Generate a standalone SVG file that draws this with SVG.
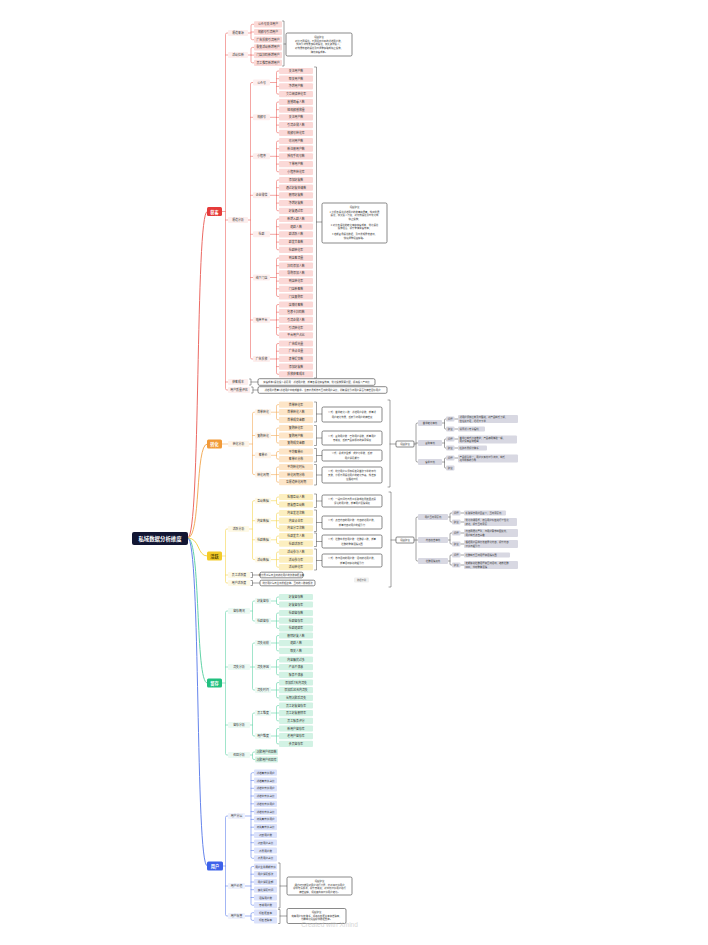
<svg xmlns="http://www.w3.org/2000/svg" width="708" height="945" viewBox="0 0 708 945">
<style>
text{font-family:"Noto Sans CJK SC","Noto Sans",sans-serif;font-size:2.9px;fill:#333;text-anchor:middle;dominant-baseline:central}
.lk{fill:none;stroke-linecap:round;stroke-linejoin:round;stroke-width:.6}
.big{stroke-width:1}
.cr{stroke:#ec6a64}.co{stroke:#f3ad5c}.cy{stroke:#f5d552}.cg{stroke:#62d3a7}.cb{stroke:#6584ec}.cd{stroke:#555;stroke-width:.55}
.root rect{fill:#121633}.root text{fill:#fff;font-size:5.4px;font-weight:bold}
.mb text{fill:#fff;font-size:4.2px;font-weight:bold}
.lr{fill:#fbd9d7}.lo{fill:#fde5c7}.ly{fill:#fcefc0}.lg{fill:#d2f2e4}.lb{fill:#dbe2fb}
.tr{fill:#fdeeed}.to{fill:#fef4e8}.ty{fill:#fef9e6}.tg{fill:#ebf9f3}.tb{fill:#eef1fd}
.nt rect{fill:#fff;stroke:#3a3a3a;stroke-width:.6}.nt text{font-size:2.4px}
.gr rect{fill:#d8d8e2}.gr text{font-size:2.4px}
.lt{text-anchor:start}
.sum{fill:#f0f0f0}
</style>

<g id="connectors">
<!-- root to main branches -->
<path class="lk big cr" d="M188 538 C201 538 195 211.5 207 211.5"/>
<path class="lk big co" d="M188 538 C201 538 195 444 207 444"/>
<path class="lk big cy" d="M188 538 C200 538 197 556 207 556"/>
<path class="lk big cg" d="M188 538 C201 538 195 683 207 683"/>
<path class="lk big cb" d="M188 538 C201 538 195 866 207 866"/>
<!-- red -->
<path class="lk cr" d="M228 33 H227 Q225.5 33 225.5 34.5 V388.5 Q225.5 390 227 390 H228 M222 211.5 H225.5 M225.5 55 H228 M225.5 220 H228 M225.5 382 H228"/>
<path class="lk cr" d="M254 24.3 H252.5 Q251 24.3 251 25.8 V38.2 Q251 39.7 252.5 39.7 H254 M248 33 H251 M251 32 H254"/>
<path class="lk cr" d="M254 47.4 H252.5 Q251 47.4 251 48.9 V61.3 Q251 62.8 252.5 62.8 H254 M248 55 H251 M251 55.1 H254"/>
<path class="lk cr" d="M253 82.5 H252 Q250.5 82.5 250.5 84 V357.5 Q250.5 359 252 359 H253 M248 220 H250.5 M250.5 117.3 H253 M250.5 156.3 H253 M250.5 195.3 H253 M250.5 234.3 H253 M250.5 277.5 H253 M250.5 320 H253"/>
<path class="lk cr" d="M279 71 H278 Q276.5 71 276.5 72.5 V92.6 Q276.5 94.1 278 94.1 H279 M270 82.5 H276.5 M276.5 78.7 H279 M276.5 86.4 H279"/>
<path class="lk cr" d="M279 102 H278 Q276.5 102 276.5 103.5 V131.3 Q276.5 132.8 278 132.8 H279 M270 117.3 H276.5 M276.5 109.7 H279 M276.5 117.4 H279 M276.5 125.1 H279"/>
<path class="lk cr" d="M279 141 H278 Q276.5 141 276.5 142.5 V170.3 Q276.5 171.8 278 171.8 H279 M270 156.3 H276.5 M276.5 148.7 H279 M276.5 156.4 H279 M276.5 164.1 H279"/>
<path class="lk cr" d="M279 180 H278 Q276.5 180 276.5 181.5 V209.3 Q276.5 210.8 278 210.8 H279 M270 195.3 H276.5 M276.5 187.7 H279 M276.5 195.4 H279 M276.5 203.1 H279"/>
<path class="lk cr" d="M279 219 H278 Q276.5 219 276.5 220.5 V248.3 Q276.5 249.8 278 249.8 H279 M270 234.3 H276.5 M276.5 226.7 H279 M276.5 234.4 H279 M276.5 242.1 H279"/>
<path class="lk cr" d="M279 258 H278 Q276.5 258 276.5 259.5 V295 Q276.5 296.5 278 296.5 H279 M270 277.5 H276.5 M276.5 265.7 H279 M276.5 273.4 H279 M276.5 281.1 H279 M276.5 288.8 H279"/>
<path class="lk cr" d="M279 304.5 H278 Q276.5 304.5 276.5 306 V333.8 Q276.5 335.3 278 335.3 H279 M270 320 H276.5 M276.5 312.2 H279 M276.5 319.9 H279 M276.5 327.6 H279"/>
<path class="lk cr" d="M279 343.5 H278 Q276.5 343.5 276.5 345 V372.8 Q276.5 374.3 278 374.3 H279 M270 359 H276.5 M276.5 351.2 H279 M276.5 358.9 H279 M276.5 366.6 H279"/>
<!-- orange -->
<path class="lk co" d="M222 444 H228"/>
<path class="lk co" d="M255 412.2 H254 Q252.5 412.2 252.5 413.7 V473.1 Q252.5 474.6 254 474.6 H255 M249 444 H252.5 M252.5 435.5 H255 M252.5 455.3 H255"/>
<path class="lk co" d="M279 404.6 H278 Q276.5 404.6 276.5 406.1 V418.3 Q276.5 419.8 278 419.8 H279 M271 412.2 H279"/>
<path class="lk co" d="M279 428 H278 Q276.5 428 276.5 429.5 V441.5 Q276.5 443 278 443 H279 M271 435.5 H279"/>
<path class="lk co" d="M279 451.5 H278 Q276.5 451.5 276.5 453 V457.6 Q276.5 459.1 278 459.1 H279 M271 455.3 H276.5"/>
<path class="lk co" d="M279 467 H278 Q276.5 467 276.5 468.5 V480.7 Q276.5 482.2 278 482.2 H279 M271 474.6 H279"/>
<!-- yellow -->
<path class="lk cy" d="M228 529 H227 Q225.5 529 225.5 530.5 V581.5 Q225.5 583 227 583 H228 M222 556 H225.5 M225.5 575 H228"/>
<path class="lk cy" d="M255 500.7 H254 Q252.5 500.7 252.5 502.2 V558.1 Q252.5 559.6 254 559.6 H255 M249 529 H252.5 M252.5 520.7 H255 M252.5 539.8 H255"/>
<path class="lk cy" d="M279 497 H278 Q276.5 497 276.5 498.5 V503 Q276.5 504.5 278 504.5 H279 M271 500.7 H276.5"/>
<path class="lk cy" d="M279 513 H278 Q276.5 513 276.5 514.5 V526.9 Q276.5 528.4 278 528.4 H279 M271 520.7 H279"/>
<path class="lk cy" d="M279 536 H278 Q276.5 536 276.5 537.5 V542.1 Q276.5 543.6 278 543.6 H279 M271 539.8 H276.5"/>
<path class="lk cy" d="M279 552 H278 Q276.5 552 276.5 553.5 V565.7 Q276.5 567.2 278 567.2 H279 M271 559.6 H279"/>
<!-- green -->
<path class="lk cg" d="M228 611 H227 Q225.5 611 225.5 612.5 V753.5 Q225.5 755 227 755 H228 M222 683 H225.5 M225.5 667 H228 M225.5 725 H228"/>
<path class="lk cg" d="M255 601 H254 Q252.5 601 252.5 602.5 V619.5 Q252.5 621 254 621 H255 M250 611 H252.5"/>
<path class="lk cg" d="M255 643 H254 Q252.5 643 252.5 644.5 V688.5 Q252.5 690 254 690 H255 M250 667 H255"/>
<path class="lk cg" d="M255 713 H254 Q252.5 713 252.5 714.5 V734.5 Q252.5 736 254 736 H255 M250 725 H252.5"/>
<path class="lk cg" d="M255 752 H254 Q252.5 752 252.5 753.5 V758 Q252.5 759.5 254 759.5 H255 M250 755 H252.5"/>
<path class="lk cg" d="M279 597 H278 Q276.5 597 276.5 598.5 V603 Q276.5 604.5 278 604.5 H279 M271 601 H276.5"/>
<path class="lk cg" d="M279 613 H278 Q276.5 613 276.5 614.5 V626.9 Q276.5 628.4 278 628.4 H279 M271 621 H279"/>
<path class="lk cg" d="M279 635.5 H278 Q276.5 635.5 276.5 637 V649.4 Q276.5 650.9 278 650.9 H279 M271 643 H279"/>
<path class="lk cg" d="M279 659.5 H278 Q276.5 659.5 276.5 661 V673.4 Q276.5 674.9 278 674.9 H279 M271 667 H279"/>
<path class="lk cg" d="M279 682.5 H278 Q276.5 682.5 276.5 684 V696.4 Q276.5 697.9 278 697.9 H279 M271 690 H279"/>
<path class="lk cg" d="M279 705.5 H278 Q276.5 705.5 276.5 707 V719.4 Q276.5 720.9 278 720.9 H279 M271 713 H279"/>
<path class="lk cg" d="M279 728.5 H278 Q276.5 728.5 276.5 730 V742.4 Q276.5 743.9 278 743.9 H279 M271 736 H279"/>
<!-- blue -->
<path class="lk cb" d="M228 816 H227 Q225.5 816 225.5 817.5 V914.5 Q225.5 916 227 916 H228 M223 866 H225.5 M225.5 886 H228"/>
<path class="lk cb" d="M254 772.7 H252.5 Q251 772.7 251 774.2 V856.8 Q251 858.3 252.5 858.3 H254 M245 816 H251 M251 780.5 H254 M251 788.3 H254 M251 796 H254 M251 803.8 H254 M251 811.6 H254 M251 819.4 H254 M251 827.2 H254 M251 835 H254 M251 842.7 H254 M251 850.5 H254"/>
<path class="lk cb" d="M254 866.5 H252.5 Q251 866.5 251 868 V903.7 Q251 905.2 252.5 905.2 H254 M245 886 H251 M251 874.2 H254 M251 882 H254 M251 889.7 H254 M251 897.5 H254"/>
<path class="lk cb" d="M254 912.7 H252.5 Q251 912.7 251 914.2 V918.9 Q251 920.4 252.5 920.4 H254 M245 916 H251"/>
<!-- summary brackets and dark links -->
<path class="lk cd" d="M282.5 21 H284 V66 H282.5 M284 44 H286"/>
<path class="lk cd" d="M314.5 67 H316.5 V378 H314.5 M316.5 222 H322"/>
<path class="lk cd" d="M249.5 379 H251 V385 H249.5 M251 382 H258"/>
<path class="lk cd" d="M251.5 387 H253 V393 H251.5 M253 390 H258"/>
<path class="lk cd" d="M314.5 402 H316.5 V422 H314.5 M316.5 414 H322"/>
<path class="lk cd" d="M314.5 425.5 H316.5 V445.5 H314.5 M316.5 438 H322"/>
<path class="lk cd" d="M314.5 448.5 H316.5 V462 H314.5 M316.5 455.5 H322"/>
<path class="lk cd" d="M314.5 464.5 H316.5 V485 H314.5 M316.5 475 H322"/>
<path class="lk cd" d="M388 400 H390 V487 H388 M390 444 H396"/>
<path class="lk cd" d="M418 423 H417.5 Q416 423 416 424.5 V460.5 Q416 462 417.5 462 H418 M414 444 H416 M416 443 H418"/>
<path class="lk cd" d="M446 419 H445.5 Q444.5 419 444.5 420 V428 Q444.5 429 445.5 429 H446 M442 423 H444.5 M454.5 419 H458 M454.5 429 H458"/>
<path class="lk cd" d="M446 439 H445.5 Q444.5 439 444.5 440 V447 Q444.5 448 445.5 448 H446 M442 443 H444.5 M454.5 439 H458 M454.5 448 H458"/>
<path class="lk cd" d="M446 458 H445.5 Q444.5 458 444.5 459 V467 Q444.5 468 445.5 468 H446 M442 462 H444.5 M454.5 458 H458"/>
<path class="lk cd" d="M314.5 494 H316.5 V507.5 H314.5 M316.5 501 H322"/>
<path class="lk cd" d="M314.5 510 H316.5 V531.5 H314.5 M316.5 522.5 H322"/>
<path class="lk cd" d="M314.5 533 H316.5 V546.5 H314.5 M316.5 541.5 H322"/>
<path class="lk cd" d="M314.5 549 H316.5 V570 H314.5 M316.5 560.5 H322"/>
<path class="lk cd" d="M389 492 H391 V587 H389 M391 540 H396"/>
<path class="lk cd" d="M418 517 H417.5 Q416 517 416 518.5 V559.5 Q416 561 417.5 561 H418 M414 540 H418"/>
<path class="lk cd" d="M452 513 H451 Q450 513 450 514 V521 Q450 522 451 522 H452 M448 517 H450 M460.5 513 H464 M460.5 522 H464"/>
<path class="lk cd" d="M452 533 H451 Q450 533 450 534 V543 Q450 544 451 544 H452 M448 540 H450 M460.5 533 H464 M460.5 544 H464"/>
<path class="lk cd" d="M452 555 H451 Q450 555 450 556 V564 Q450 565 451 565 H452 M448 561 H450 M460.5 555 H464 M460.5 565 H464"/>
<path class="lk cd" d="M251 572.5 H252.5 V577.5 H251 M252.5 575 H260"/>
<path class="lk cd" d="M251 580.5 H252.5 V585.5 H251 M252.5 583 H260"/>
<path class="lk cd" d="M278.5 863 H280 V908 H278.5 M280 886 H287"/>
<path class="lk cd" d="M278.5 909.5 H280 V923.5 H278.5 M280 916 H287"/>
</g>

<g id="root" class="root"><rect x="132" y="532" width="56" height="13" rx="2"/><text x="160" y="538.5">私域数据分析维度</text></g>

<g id="b-red" class="mb"><rect x="207" y="207" width="15" height="9" rx="1.5" fill="#e53b3a"/><text x="214.5" y="211.5">获客</text></g>
<g id="b-orange" class="mb"><rect x="207" y="439.5" width="15" height="9" rx="1.5" fill="#f19a38"/><text x="214.5" y="444">转化</text></g>
<g id="b-yellow" class="mb"><rect x="207" y="551.5" width="15" height="9" rx="1.5" fill="#f3cb28"/><text x="214.5" y="556" style="fill:#5a4a00">活跃</text></g>
<g id="b-green" class="mb"><rect x="207" y="678.5" width="15" height="9" rx="1.5" fill="#22c07f"/><text x="214.5" y="683">留存</text></g>
<g id="b-blue" class="mb"><rect x="207" y="861.5" width="16" height="9" rx="1.5" fill="#3d62ea"/><text x="215" y="866">用户</text></g>

<!-- RED -->
<g id="r1"><rect class="tr" x="228" y="30" width="20" height="6" rx="1"/><text x="238" y="33">渠道来源</text></g>
<g id="r2"><rect class="tr" x="228" y="52" width="20" height="6" rx="1"/><text x="238" y="55">活动拉新</text></g>
<g id="r3"><rect class="tr" x="228" y="217" width="20" height="6" rx="1"/><text x="238" y="220">渠道分析</text></g>
<g id="r4"><rect class="tr" x="228" y="379" width="20" height="6" rx="1"/><text x="238" y="382">获客成本</text></g>
<g id="r5"><rect class="tr" x="228" y="387" width="22" height="6" rx="1"/><text x="239" y="390">用户质量评估</text></g>

<g id="r1-1"><rect class="lr" x="254" y="21.2" width="28" height="6.2" rx="1"/><text x="268" y="24.3">公众号关注用户</text></g>
<g id="r1-2"><rect class="lr" x="254" y="28.9" width="28" height="6.2" rx="1"/><text x="268" y="32">视频号引流用户</text></g>
<g id="r1-3"><rect class="lr" x="254" y="36.6" width="28" height="6.2" rx="1"/><text x="268" y="39.7">广告投放引流用户</text></g>
<g id="r2-1"><rect class="lr" x="254" y="44.3" width="28" height="6.2" rx="1"/><text x="268" y="47.4">裂变活动新增用户</text></g>
<g id="r2-2"><rect class="lr" x="254" y="52" width="28" height="6.2" rx="1"/><text x="268" y="55.1">门店扫码新增用户</text></g>
<g id="r2-3"><rect class="lr" x="254" y="59.7" width="28" height="6.2" rx="1"/><text x="268" y="62.8">员工推荐新增用户</text></g>
<g id="r-note1" class="nt"><rect x="286" y="33" width="66" height="23" rx="1.5"/><text x="319" y="36.5">运营建议</text><text x="319" y="40.5">对比不同渠道、不同活动带来的新增用户数，</text><text x="319" y="44.3">找出引流效果最好的渠道，加大资源投入；</text><text x="319" y="48.1">对效果较差的渠道及时调整策略或停止投放，</text><text x="319" y="51.9">降低获客成本。</text></g>

<g id="r3-g1"><rect class="tr" x="253" y="79.5" width="17" height="6" rx="1"/><text x="261.5" y="82.5">公众号</text></g>
<g id="r3-g2"><rect class="tr" x="253" y="114.3" width="17" height="6" rx="1"/><text x="261.5" y="117.3">视频号</text></g>
<g id="r3-g3"><rect class="tr" x="253" y="153.3" width="17" height="6" rx="1"/><text x="261.5" y="156.3">小程序</text></g>
<g id="r3-g4"><rect class="tr" x="253" y="192.3" width="17" height="6" rx="1"/><text x="261.5" y="195.3">企业微信</text></g>
<g id="r3-g5"><rect class="tr" x="253" y="231.3" width="17" height="6" rx="1"/><text x="261.5" y="234.3">社群</text></g>
<g id="r3-g6"><rect class="tr" x="253" y="274.5" width="17" height="6" rx="1"/><text x="261.5" y="277.5">线下门店</text></g>
<g id="r3-g7"><rect class="tr" x="253" y="317" width="17" height="6" rx="1"/><text x="261.5" y="320">电商平台</text></g>
<g id="r3-g8"><rect class="tr" x="253" y="356" width="17" height="6" rx="1"/><text x="261.5" y="359">广告投放</text></g>

<g id="r3-g1-1"><rect class="lr" x="279" y="67.9" width="34" height="6.2" rx="1"/><text x="296" y="71">关注用户数</text></g>
<g id="r3-g1-2"><rect class="lr" x="279" y="75.6" width="34" height="6.2" rx="1"/><text x="296" y="78.7">取关用户数</text></g>
<g id="r3-g1-3"><rect class="lr" x="279" y="83.3" width="34" height="6.2" rx="1"/><text x="296" y="86.4">净增用户数</text></g>
<g id="r3-g1-4"><rect class="lr" x="279" y="91" width="34" height="6.2" rx="1"/><text x="296" y="94.1">文章阅读转化率</text></g>
<g id="r3-g2-1"><rect class="lr" x="279" y="98.9" width="34" height="6.2" rx="1"/><text x="296" y="102">直播观看人数</text></g>
<g id="r3-g2-2"><rect class="lr" x="279" y="106.6" width="34" height="6.2" rx="1"/><text x="296" y="109.7">短视频播放量</text></g>
<g id="r3-g2-3"><rect class="lr" x="279" y="114.3" width="34" height="6.2" rx="1"/><text x="296" y="117.4">关注用户数</text></g>
<g id="r3-g2-4"><rect class="lr" x="279" y="122" width="34" height="6.2" rx="1"/><text x="296" y="125.1">引流企微人数</text></g>
<g id="r3-g2-5"><rect class="lr" x="279" y="129.7" width="34" height="6.2" rx="1"/><text x="296" y="132.8">视频号转化率</text></g>
<g id="r3-g3-1"><rect class="lr" x="279" y="137.9" width="34" height="6.2" rx="1"/><text x="296" y="141">访问用户数</text></g>
<g id="r3-g3-2"><rect class="lr" x="279" y="145.6" width="34" height="6.2" rx="1"/><text x="296" y="148.7">新注册用户数</text></g>
<g id="r3-g3-3"><rect class="lr" x="279" y="153.3" width="34" height="6.2" rx="1"/><text x="296" y="156.4">授权手机号数</text></g>
<g id="r3-g3-4"><rect class="lr" x="279" y="161" width="34" height="6.2" rx="1"/><text x="296" y="164.1">下单用户数</text></g>
<g id="r3-g3-5"><rect class="lr" x="279" y="168.7" width="34" height="6.2" rx="1"/><text x="296" y="171.8">小程序转化率</text></g>
<g id="r3-g4-1"><rect class="lr" x="279" y="176.9" width="34" height="6.2" rx="1"/><text x="296" y="180">添加好友数</text></g>
<g id="r3-g4-2"><rect class="lr" x="279" y="184.6" width="34" height="6.2" rx="1"/><text x="296" y="187.7">通过好友申请数</text></g>
<g id="r3-g4-3"><rect class="lr" x="279" y="192.3" width="34" height="6.2" rx="1"/><text x="296" y="195.4">删除好友数</text></g>
<g id="r3-g4-4"><rect class="lr" x="279" y="200" width="34" height="6.2" rx="1"/><text x="296" y="203.1">净增好友数</text></g>
<g id="r3-g4-5"><rect class="lr" x="279" y="207.7" width="34" height="6.2" rx="1"/><text x="296" y="210.8">好友通过率</text></g>
<g id="r3-g5-1"><rect class="lr" x="279" y="215.9" width="34" height="6.2" rx="1"/><text x="296" y="219">新增入群人数</text></g>
<g id="r3-g5-2"><rect class="lr" x="279" y="223.6" width="34" height="6.2" rx="1"/><text x="296" y="226.7">退群人数</text></g>
<g id="r3-g5-3"><rect class="lr" x="279" y="231.3" width="34" height="6.2" rx="1"/><text x="296" y="234.4">群活跃人数</text></g>
<g id="r3-g5-4"><rect class="lr" x="279" y="239" width="34" height="6.2" rx="1"/><text x="296" y="242.1">群发言条数</text></g>
<g id="r3-g5-5"><rect class="lr" x="279" y="246.7" width="34" height="6.2" rx="1"/><text x="296" y="249.8">社群转化率</text></g>
<g id="r3-g6-1"><rect class="lr" x="279" y="254.9" width="34" height="6.2" rx="1"/><text x="296" y="258">到店客流量</text></g>
<g id="r3-g6-2"><rect class="lr" x="279" y="262.6" width="34" height="6.2" rx="1"/><text x="296" y="265.7">扫码添加人数</text></g>
<g id="r3-g6-3"><rect class="lr" x="279" y="270.3" width="34" height="6.2" rx="1"/><text x="296" y="273.4">导购添加人数</text></g>
<g id="r3-g6-4"><rect class="lr" x="279" y="278" width="34" height="6.2" rx="1"/><text x="296" y="281.1">到店转化率</text></g>
<g id="r3-g6-5"><rect class="lr" x="279" y="285.7" width="34" height="6.2" rx="1"/><text x="296" y="288.8">门店新客数</text></g>
<g id="r3-g6-6"><rect class="lr" x="279" y="293.4" width="34" height="6.2" rx="1"/><text x="296" y="296.5">门店复购率</text></g>
<g id="r3-g7-1"><rect class="lr" x="279" y="301.4" width="34" height="6.2" rx="1"/><text x="296" y="304.5">店铺访客数</text></g>
<g id="r3-g7-2"><rect class="lr" x="279" y="309.1" width="34" height="6.2" rx="1"/><text x="296" y="312.2">包裹卡扫码数</text></g>
<g id="r3-g7-3"><rect class="lr" x="279" y="316.8" width="34" height="6.2" rx="1"/><text x="296" y="319.9">引流企微人数</text></g>
<g id="r3-g7-4"><rect class="lr" x="279" y="324.5" width="34" height="6.2" rx="1"/><text x="296" y="327.6">引流转化率</text></g>
<g id="r3-g7-5"><rect class="lr" x="279" y="332.2" width="34" height="6.2" rx="1"/><text x="296" y="335.3">平台用户占比</text></g>
<g id="r3-g8-1"><rect class="lr" x="279" y="340.4" width="34" height="6.2" rx="1"/><text x="296" y="343.5">广告曝光量</text></g>
<g id="r3-g8-2"><rect class="lr" x="279" y="348.1" width="34" height="6.2" rx="1"/><text x="296" y="351.2">广告点击量</text></g>
<g id="r3-g8-3"><rect class="lr" x="279" y="355.8" width="34" height="6.2" rx="1"/><text x="296" y="358.9">表单提交数</text></g>
<g id="r3-g8-4"><rect class="lr" x="279" y="363.5" width="34" height="6.2" rx="1"/><text x="296" y="366.6">添加好友数</text></g>
<g id="r3-g8-5"><rect class="lr" x="279" y="371.2" width="34" height="6.2" rx="1"/><text x="296" y="374.3">投放获客成本</text></g>

<g id="r-note2" class="nt"><rect x="322" y="203" width="65" height="40" rx="1.5"/><text x="354.5" y="207">运营建议</text><text x="354.5" y="211.5">1.分析各渠道新增用户的数量和质量，找出优质</text><text x="354.5" y="215.3">渠道，加大投入力度，对低效渠道及时优化或</text><text x="354.5" y="219.1">停止投放；</text><text x="354.5" y="224.5">2.对比各渠道的转化率和获客成本，优化渠道</text><text x="354.5" y="228.3">投放组合，提升整体获客效率；</text><text x="354.5" y="233.7">3.定期复盘渠道数据，及时发现异常波动，</text><text x="354.5" y="237.5">快速调整运营策略。</text></g>
<g id="r-note3" class="nt"><rect x="258" y="378.7" width="117" height="6.6" rx="1.5"/><text x="316.5" y="382">获客成本=渠道投入总费用÷新增用户数，衡量各渠道获客效率，优化投放预算分配，提高投入产出比</text></g>
<g id="r-note4" class="nt"><rect x="258" y="386.7" width="129" height="6.6" rx="1.5"/><text x="322.5" y="390">新增用户质量=新增用户中完成首单、注册会员或参与互动的用户占比，判断渠道引流用户是否为精准目标用户</text></g>

<!-- ORANGE -->
<g id="o1"><rect class="to" x="228" y="441" width="21" height="6" rx="1"/><text x="238.5" y="444">转化分析</text></g>
<g id="o1-g1"><rect class="to" x="255" y="409.2" width="16" height="6" rx="1"/><text x="263" y="412.2">首单转化</text></g>
<g id="o1-g2"><rect class="to" x="255" y="432.5" width="16" height="6" rx="1"/><text x="263" y="435.5">复购转化</text></g>
<g id="o1-g3"><rect class="to" x="255" y="452.3" width="16" height="6" rx="1"/><text x="263" y="455.3">客单价</text></g>
<g id="o1-g4"><rect class="to" x="255" y="471.6" width="16" height="6" rx="1"/><text x="263" y="474.6">转化周期</text></g>
<g id="o1-g1-1"><rect class="lo" x="279" y="401.5" width="34" height="6.2" rx="1"/><text x="296" y="404.6">首单转化率</text></g>
<g id="o1-g1-2"><rect class="lo" x="279" y="409.1" width="34" height="6.2" rx="1"/><text x="296" y="412.2">首单转化人数</text></g>
<g id="o1-g1-3"><rect class="lo" x="279" y="416.7" width="34" height="6.2" rx="1"/><text x="296" y="419.8">首单成交金额</text></g>
<g id="o1-g2-1"><rect class="lo" x="279" y="424.9" width="34" height="6.2" rx="1"/><text x="296" y="428">复购转化率</text></g>
<g id="o1-g2-2"><rect class="lo" x="279" y="432.4" width="34" height="6.2" rx="1"/><text x="296" y="435.5">复购用户数</text></g>
<g id="o1-g2-3"><rect class="lo" x="279" y="439.9" width="34" height="6.2" rx="1"/><text x="296" y="443">复购成交金额</text></g>
<g id="o1-g3-1"><rect class="lo" x="279" y="448.4" width="34" height="6.2" rx="1"/><text x="296" y="451.5">平均客单价</text></g>
<g id="o1-g3-2"><rect class="lo" x="279" y="456" width="34" height="6.2" rx="1"/><text x="296" y="459.1">客单价分布</text></g>
<g id="o1-g4-1"><rect class="lo" x="279" y="463.9" width="34" height="6.2" rx="1"/><text x="296" y="467">平均转化时长</text></g>
<g id="o1-g4-2"><rect class="lo" x="279" y="471.5" width="34" height="6.2" rx="1"/><text x="296" y="474.6">转化周期分布</text></g>
<g id="o1-g4-3"><rect class="lo" x="279" y="479.1" width="34" height="6.2" rx="1"/><text x="296" y="482.2">各渠道转化周期</text></g>
<g id="o-note1" class="nt"><rect x="322" y="407" width="60" height="15" rx="1.5"/><text x="352" y="412.4">公式：首单转化人数÷新增用户总数，衡量新</text><text x="352" y="416.6">用户转化效果，反映引流用户的精准度</text></g>
<g id="o-note2" class="nt"><rect x="322" y="431" width="60" height="14" rx="1.5"/><text x="352" y="435.9">公式：复购用户数÷已购用户总数，衡量用户</text><text x="352" y="440.1">忠诚度，反映产品和服务的满意程度</text></g>
<g id="o-note3" class="nt"><rect x="322" y="450" width="60" height="11" rx="1.5"/><text x="352" y="453.4">公式：总成交金额÷成交订单数，反映</text><text x="352" y="457.6">用户消费能力</text></g>
<g id="o-note4" class="nt"><rect x="322" y="467" width="60" height="16" rx="1.5"/><text x="352" y="470.8">公式：统计用户从添加好友到首次下单的平均</text><text x="352" y="475">天数，分析不同渠道用户的转化节奏，找准最</text><text x="352" y="479.2">佳跟进时机</text></g>
<g id="o-adv" class="nt"><rect x="396" y="441" width="18" height="6" rx="1"/><text x="405" y="444">运营建议</text></g>
<g id="o-p1" class="gr"><rect x="418" y="420" width="24" height="6" rx="1"/><text x="430" y="423">首单转化率低</text></g>
<g id="o-p2" class="gr"><rect x="418" y="440" width="24" height="6" rx="1"/><text x="430" y="443">复购率低</text></g>
<g id="o-p3" class="gr"><rect x="418" y="459" width="24" height="6" rx="1"/><text x="430" y="462">客单价低</text></g>
<g id="o-p1-q" class="gr"><rect x="446" y="416.5" width="8.5" height="5" rx="1"/><text x="450.25" y="419">问题</text></g>
<g id="o-p1-a" class="gr"><rect x="446" y="426.5" width="8.5" height="5" rx="1"/><text x="450.25" y="429">建议</text></g>
<g id="o-p2-q" class="gr"><rect x="446" y="436.5" width="8.5" height="5" rx="1"/><text x="450.25" y="439">问题</text></g>
<g id="o-p2-a" class="gr"><rect x="446" y="445.5" width="8.5" height="5" rx="1"/><text x="450.25" y="448">建议</text></g>
<g id="o-p3-q" class="gr"><rect x="446" y="455.5" width="8.5" height="5" rx="1"/><text x="450.25" y="458">问题</text></g>
<g id="o-p3-a" class="gr"><rect x="446" y="465.5" width="8.5" height="5" rx="1"/><text x="450.25" y="468">建议</text></g>
<g id="o-t1" class="gr"><rect x="458" y="415" width="60" height="8" rx="1"/><text class="lt" x="459.5" y="417.2">新用户添加后未及时跟进，对产品缺乏了解，</text><text class="lt" x="459.5" y="420.8">信任度不足，迟迟不下单</text></g>
<g id="o-t2" class="gr"><rect x="458" y="426.5" width="27" height="5" rx="1"/><text class="lt" x="459.5" y="429">设置新人专享福利</text></g>
<g id="o-t3" class="gr"><rect x="458" y="435.5" width="59" height="8" rx="1"/><text class="lt" x="459.5" y="437.7">首单后缺乏持续维护，产品使用体验一般，</text><text class="lt" x="459.5" y="441.3">用户没有复购理由</text></g>
<g id="o-t4" class="gr"><rect x="458" y="445.5" width="29" height="5" rx="1"/><text class="lt" x="459.5" y="448">搭建会员积分体系</text></g>
<g id="o-t5" class="gr"><rect x="458" y="454.5" width="60" height="8" rx="1"/><text class="lt" x="459.5" y="456.7">产品组合单一，用户只买低价引流款，缺乏</text><text class="lt" x="459.5" y="460.3">连带购买的引导</text></g>

<!-- YELLOW -->
<g id="y1"><rect class="ty" x="228" y="526" width="21" height="6" rx="1"/><text x="238.5" y="529">活跃分析</text></g>
<g id="y2"><rect class="ty" x="228" y="572" width="22" height="6" rx="1"/><text x="239" y="575">员工活跃度</text></g>
<g id="y3"><rect class="ty" x="228" y="580" width="22" height="6" rx="1"/><text x="239" y="583">用户活跃度</text></g>
<g id="y1-g1"><rect class="ty" x="255" y="497.7" width="16" height="6" rx="1"/><text x="263" y="500.7">互动数据</text></g>
<g id="y1-g2"><rect class="ty" x="255" y="517.7" width="16" height="6" rx="1"/><text x="263" y="520.7">内容数据</text></g>
<g id="y1-g3"><rect class="ty" x="255" y="536.8" width="16" height="6" rx="1"/><text x="263" y="539.8">社群数据</text></g>
<g id="y1-g4"><rect class="ty" x="255" y="556.6" width="16" height="6" rx="1"/><text x="263" y="559.6">活动数据</text></g>
<g id="y1-g1-1"><rect class="ly" x="279" y="493.9" width="34" height="6.2" rx="1"/><text x="296" y="497">私聊互动人数</text></g>
<g id="y1-g1-2"><rect class="ly" x="279" y="501.4" width="34" height="6.2" rx="1"/><text x="296" y="504.5">朋友圈互动数</text></g>
<g id="y1-g2-1"><rect class="ly" x="279" y="509.9" width="34" height="6.2" rx="1"/><text x="296" y="513">内容发送次数</text></g>
<g id="y1-g2-2"><rect class="ly" x="279" y="517.6" width="34" height="6.2" rx="1"/><text x="296" y="520.7">内容点击率</text></g>
<g id="y1-g2-3"><rect class="ly" x="279" y="525.3" width="34" height="6.2" rx="1"/><text x="296" y="528.4">内容分享次数</text></g>
<g id="y1-g3-1"><rect class="ly" x="279" y="532.9" width="34" height="6.2" rx="1"/><text x="296" y="536">社群发言人数</text></g>
<g id="y1-g3-2"><rect class="ly" x="279" y="540.5" width="34" height="6.2" rx="1"/><text x="296" y="543.6">社群活跃率</text></g>
<g id="y1-g4-1"><rect class="ly" x="279" y="548.9" width="34" height="6.2" rx="1"/><text x="296" y="552">活动参与人数</text></g>
<g id="y1-g4-2"><rect class="ly" x="279" y="556.5" width="34" height="6.2" rx="1"/><text x="296" y="559.6">活动参与率</text></g>
<g id="y1-g4-3"><rect class="ly" x="279" y="564.1" width="34" height="6.2" rx="1"/><text x="296" y="567.2">活动转化率</text></g>
<g id="y-note1" class="nt"><rect x="322" y="495" width="60" height="12" rx="1.5"/><text x="352" y="498.9">公式：一段时间内与员工私聊或在朋友圈点赞</text><text x="352" y="503.1">评论的用户数，衡量用户活跃程度</text></g>
<g id="y-note2" class="nt"><rect x="322" y="516" width="60" height="13" rx="1.5"/><text x="352" y="520.4">公式：点击内容的用户数÷内容触达用户数，</text><text x="352" y="524.6">衡量内容对用户的吸引力</text></g>
<g id="y-note3" class="nt"><rect x="322" y="535" width="60" height="13" rx="1.5"/><text x="352" y="539.4">公式：社群中发言用户数÷社群总人数，衡量</text><text x="352" y="543.6">社群的整体活跃氛围</text></g>
<g id="y-note4" class="nt"><rect x="322" y="554" width="60" height="13" rx="1.5"/><text x="352" y="558.4">公式：参与活动的用户数÷活动触达用户数，</text><text x="352" y="562.6">衡量活动策划的吸引力</text></g>
<g id="y-sample"><rect class="sum" x="354" y="577.5" width="15" height="5" rx="1"/><text x="361.5" y="580" style="font-size:2.3px;fill:#666">数据示例</text></g>
<g id="y-adv" class="nt"><rect x="396" y="537" width="18" height="6" rx="1"/><text x="405" y="540">运营建议</text></g>
<g id="y-p1" class="gr"><rect x="418" y="514" width="30" height="6" rx="1"/><text x="433" y="517">用户互动意愿低</text></g>
<g id="y-p2" class="gr"><rect x="418" y="537" width="30" height="6" rx="1"/><text x="433" y="540">内容点击率低</text></g>
<g id="y-p3" class="gr"><rect x="418" y="558" width="30" height="6" rx="1"/><text x="433" y="561">社群活跃度低</text></g>
<g id="y-p1-q" class="gr"><rect x="452" y="510.5" width="8.5" height="5" rx="1"/><text x="456.25" y="513">问题</text></g>
<g id="y-p1-a" class="gr"><rect x="452" y="519.5" width="8.5" height="5" rx="1"/><text x="456.25" y="522">建议</text></g>
<g id="y-p2-q" class="gr"><rect x="452" y="530.5" width="8.5" height="5" rx="1"/><text x="456.25" y="533">问题</text></g>
<g id="y-p2-a" class="gr"><rect x="452" y="541.5" width="8.5" height="5" rx="1"/><text x="456.25" y="544">建议</text></g>
<g id="y-p3-q" class="gr"><rect x="452" y="552.5" width="8.5" height="5" rx="1"/><text x="456.25" y="555">问题</text></g>
<g id="y-p3-a" class="gr"><rect x="452" y="562.5" width="8.5" height="5" rx="1"/><text x="456.25" y="565">建议</text></g>
<g id="y-t1" class="gr"><rect x="464" y="510.5" width="42" height="5" rx="1"/><text class="lt" x="465.5" y="513">私聊消息用户回复少，互动意愿低</text></g>
<g id="y-t2" class="gr"><rect x="464" y="518" width="53" height="8" rx="1"/><text class="lt" x="465.5" y="520.2">优化沟通话术，结合用户标签进行个性化</text><text class="lt" x="465.5" y="523.8">触达，提升互动意愿</text></g>
<g id="y-t3" class="gr"><rect x="464" y="529" width="54" height="8" rx="1"/><text class="lt" x="465.5" y="531.2">内容同质化严重，与用户需求匹配度低，</text><text class="lt" x="465.5" y="534.8">用户缺乏点击兴趣</text></g>
<g id="y-t4" class="gr"><rect x="464" y="540" width="54" height="8" rx="1"/><text class="lt" x="465.5" y="542.2">根据用户画像打造差异化内容，提升内容</text><text class="lt" x="465.5" y="545.8">价值与吸引力</text></g>
<g id="y-t5" class="gr"><rect x="464" y="552.5" width="46" height="5" rx="1"/><text class="lt" x="465.5" y="555">社群缺乏互动话题和活跃氛围</text></g>
<g id="y-t6" class="gr"><rect x="464" y="561" width="54" height="8" rx="1"/><text class="lt" x="465.5" y="563.2">定期策划社群话题和互动活动，培养社群</text><text class="lt" x="465.5" y="566.8">KOC，带动整体活跃</text></g>
<g id="y-note5" class="nt"><rect x="260" y="572.2" width="43" height="5.6" rx="1.5"/><text x="281.5" y="575">统计员工每日主动触达用户的次数和覆盖率</text></g>
<g id="y-note6" class="nt"><rect x="260" y="580.2" width="55" height="5.6" rx="1.5"/><text x="287.5" y="583">统计用户每日主动发起咨询、互动的人数和频次</text></g>

<!-- GREEN -->
<g id="g1"><rect class="tg" x="228" y="608" width="22" height="6" rx="1"/><text x="239" y="611">留存概况</text></g>
<g id="g2"><rect class="tg" x="228" y="664" width="22" height="6" rx="1"/><text x="239" y="667">流失分析</text></g>
<g id="g3"><rect class="tg" x="228" y="722" width="22" height="6" rx="1"/><text x="239" y="725">留存分析</text></g>
<g id="g4"><rect class="tg" x="228" y="752" width="22" height="6" rx="1"/><text x="239" y="755">召回分析</text></g>
<g id="g1-a"><rect class="tg" x="255" y="598" width="16" height="6" rx="1"/><text x="263" y="601">好友留存</text></g>
<g id="g1-b"><rect class="tg" x="255" y="618" width="16" height="6" rx="1"/><text x="263" y="621">社群留存</text></g>
<g id="g2-a"><rect class="tg" x="255" y="640" width="16" height="6" rx="1"/><text x="263" y="643">流失规模</text></g>
<g id="g2-b"><rect class="tg" x="255" y="664" width="16" height="6" rx="1"/><text x="263" y="667">流失原因</text></g>
<g id="g2-c"><rect class="tg" x="255" y="687" width="16" height="6" rx="1"/><text x="263" y="690">流失时间</text></g>
<g id="g3-a"><rect class="tg" x="255" y="710" width="16" height="6" rx="1"/><text x="263" y="713">员工维度</text></g>
<g id="g3-b"><rect class="tg" x="255" y="733" width="16" height="6" rx="1"/><text x="263" y="736">用户维度</text></g>
<g id="g4-1"><rect class="lg" x="255" y="748.9" width="23" height="6.2" rx="1"/><text x="266.5" y="752">沉默用户召回数</text></g>
<g id="g4-2"><rect class="lg" x="255" y="756.4" width="23" height="6.2" rx="1"/><text x="266.5" y="759.5">沉默用户召回率</text></g>
<g id="g1-a-1"><rect class="lg" x="279" y="593.9" width="34" height="6.2" rx="1"/><text x="296" y="597">好友留存数</text></g>
<g id="g1-a-2"><rect class="lg" x="279" y="601.4" width="34" height="6.2" rx="1"/><text x="296" y="604.5">好友留存率</text></g>
<g id="g1-b-1"><rect class="lg" x="279" y="609.9" width="34" height="6.2" rx="1"/><text x="296" y="613">社群留存数</text></g>
<g id="g1-b-2"><rect class="lg" x="279" y="617.6" width="34" height="6.2" rx="1"/><text x="296" y="620.7">社群留存率</text></g>
<g id="g1-b-3"><rect class="lg" x="279" y="625.3" width="34" height="6.2" rx="1"/><text x="296" y="628.4">社群退群率</text></g>
<g id="g2-a-1"><rect class="lg" x="279" y="632.4" width="34" height="6.2" rx="1"/><text x="296" y="635.5">删除好友人数</text></g>
<g id="g2-a-2"><rect class="lg" x="279" y="640.1" width="34" height="6.2" rx="1"/><text x="296" y="643.2">退群人数</text></g>
<g id="g2-a-3"><rect class="lg" x="279" y="647.8" width="34" height="6.2" rx="1"/><text x="296" y="650.9">取关人数</text></g>
<g id="g2-b-1"><rect class="lg" x="279" y="656.4" width="34" height="6.2" rx="1"/><text x="296" y="659.5">内容骚扰过多</text></g>
<g id="g2-b-2"><rect class="lg" x="279" y="664.1" width="34" height="6.2" rx="1"/><text x="296" y="667.2">产品不满意</text></g>
<g id="g2-b-3"><rect class="lg" x="279" y="671.8" width="34" height="6.2" rx="1"/><text x="296" y="674.9">服务不满意</text></g>
<g id="g2-c-1"><rect class="lg" x="279" y="679.4" width="34" height="6.2" rx="1"/><text x="296" y="682.5">添加后7天内流失</text></g>
<g id="g2-c-2"><rect class="lg" x="279" y="687.1" width="34" height="6.2" rx="1"/><text x="296" y="690.2">添加后30天内流失</text></g>
<g id="g2-c-3"><rect class="lg" x="279" y="694.8" width="34" height="6.2" rx="1"/><text x="296" y="697.9">长期沉默后流失</text></g>
<g id="g3-a-1"><rect class="lg" x="279" y="702.4" width="34" height="6.2" rx="1"/><text x="296" y="705.5">员工好友留存率</text></g>
<g id="g3-a-2"><rect class="lg" x="279" y="710.1" width="34" height="6.2" rx="1"/><text x="296" y="713.2">员工好友删除率</text></g>
<g id="g3-a-3"><rect class="lg" x="279" y="717.8" width="34" height="6.2" rx="1"/><text x="296" y="720.9">员工服务评分</text></g>
<g id="g3-b-1"><rect class="lg" x="279" y="725.4" width="34" height="6.2" rx="1"/><text x="296" y="728.5">新用户留存率</text></g>
<g id="g3-b-2"><rect class="lg" x="279" y="733.1" width="34" height="6.2" rx="1"/><text x="296" y="736.2">老用户留存率</text></g>
<g id="g3-b-3"><rect class="lg" x="279" y="740.8" width="34" height="6.2" rx="1"/><text x="296" y="743.9">会员留存率</text></g>

<!-- BLUE -->
<g id="u1"><rect class="tb" x="228" y="813" width="17" height="6" rx="1"/><text x="236.5" y="816">用户分层</text></g>
<g id="u2"><rect class="tb" x="228" y="883" width="17" height="6" rx="1"/><text x="236.5" y="886">用户价值</text></g>
<g id="u3"><rect class="tb" x="228" y="913" width="17" height="6" rx="1"/><text x="236.5" y="916">用户标签</text></g>
<g id="u1-1"><rect class="lb" x="254" y="769.6" width="23" height="6.2" rx="1"/><text x="265.5" y="772.7" style="font-size:2.6px">新增高价值用户</text></g>
<g id="u1-2"><rect class="lb" x="254" y="777.4" width="23" height="6.2" rx="1"/><text x="265.5" y="780.5" style="font-size:2.6px">新增高价值占比</text></g>
<g id="u1-3"><rect class="lb" x="254" y="785.2" width="23" height="6.2" rx="1"/><text x="265.5" y="788.3" style="font-size:2.6px">新增中价值用户</text></g>
<g id="u1-4"><rect class="lb" x="254" y="792.9" width="23" height="6.2" rx="1"/><text x="265.5" y="796" style="font-size:2.6px">新增中价值占比</text></g>
<g id="u1-5"><rect class="lb" x="254" y="800.7" width="23" height="6.2" rx="1"/><text x="265.5" y="803.8" style="font-size:2.6px">新增低价值用户</text></g>
<g id="u1-6"><rect class="lb" x="254" y="808.5" width="23" height="6.2" rx="1"/><text x="265.5" y="811.6" style="font-size:2.6px">新增低价值占比</text></g>
<g id="u1-7"><rect class="lb" x="254" y="816.3" width="23" height="6.2" rx="1"/><text x="265.5" y="819.4" style="font-size:2.6px">流失高价值用户</text></g>
<g id="u1-8"><rect class="lb" x="254" y="824.1" width="23" height="6.2" rx="1"/><text x="265.5" y="827.2" style="font-size:2.6px">流失高价值占比</text></g>
<g id="u1-9"><rect class="lb" x="254" y="831.9" width="23" height="6.2" rx="1"/><text x="265.5" y="835" style="font-size:2.6px">沉默用户数</text></g>
<g id="u1-10"><rect class="lb" x="254" y="839.6" width="23" height="6.2" rx="1"/><text x="265.5" y="842.7" style="font-size:2.6px">沉默用户占比</text></g>
<g id="u1-11"><rect class="lb" x="254" y="847.4" width="23" height="6.2" rx="1"/><text x="265.5" y="850.5" style="font-size:2.6px">会员用户数</text></g>
<g id="u1-12"><rect class="lb" x="254" y="855.2" width="23" height="6.2" rx="1"/><text x="265.5" y="858.3" style="font-size:2.6px">会员用户占比</text></g>
<g id="u2-1"><rect class="lb" x="254" y="863.4" width="23" height="6.2" rx="1"/><text x="265.5" y="866.5" style="font-size:2.6px">用户生命周期价值</text></g>
<g id="u2-2"><rect class="lb" x="254" y="871.1" width="23" height="6.2" rx="1"/><text x="265.5" y="874.2" style="font-size:2.6px">用户消费频次</text></g>
<g id="u2-3"><rect class="lb" x="254" y="878.9" width="23" height="6.2" rx="1"/><text x="265.5" y="882" style="font-size:2.6px">用户消费金额</text></g>
<g id="u2-4"><rect class="lb" x="254" y="886.6" width="23" height="6.2" rx="1"/><text x="265.5" y="889.7" style="font-size:2.6px">最近消费时间</text></g>
<g id="u2-5"><rect class="lb" x="254" y="894.4" width="23" height="6.2" rx="1"/><text x="265.5" y="897.5" style="font-size:2.6px">活跃用户数</text></g>
<g id="u2-6"><rect class="lb" x="254" y="902.1" width="23" height="6.2" rx="1"/><text x="265.5" y="905.2" style="font-size:2.6px">忠诚用户数</text></g>
<g id="u3-1"><rect class="lb" x="254" y="909.6" width="23" height="6.2" rx="1"/><text x="265.5" y="912.7" style="font-size:2.6px">标签覆盖率</text></g>
<g id="u3-2"><rect class="lb" x="254" y="917.3" width="23" height="6.2" rx="1"/><text x="265.5" y="920.4" style="font-size:2.6px">标签准确率</text></g>
<g id="u-note1" class="nt"><rect x="287" y="877" width="65" height="18" rx="1.5"/><text x="319.5" y="880.5">运营建议</text><text x="319.5" y="884.5">通过RFM模型对用户进行分层，针对高价值用户</text><text x="319.5" y="888.2">提供专属服务，提升忠诚度；对中低价值用户进行</text><text x="319.5" y="891.9">精准营销，促进其向高价值用户转化。</text></g>
<g id="u-note2" class="nt"><rect x="287" y="908.5" width="59" height="15" rx="1.5"/><text x="316.5" y="911.8">运营建议</text><text x="316.5" y="915.6">完善用户标签体系，提高标签覆盖率和准确率，</text><text x="316.5" y="919.3">为精细化运营提供数据支撑。</text></g>

<text x="329.5" y="924" style="font-size:6.5px;fill:#c4c4c4;opacity:.7;font-family:'Liberation Sans',sans-serif">Created with Xmind</text>
</svg>
